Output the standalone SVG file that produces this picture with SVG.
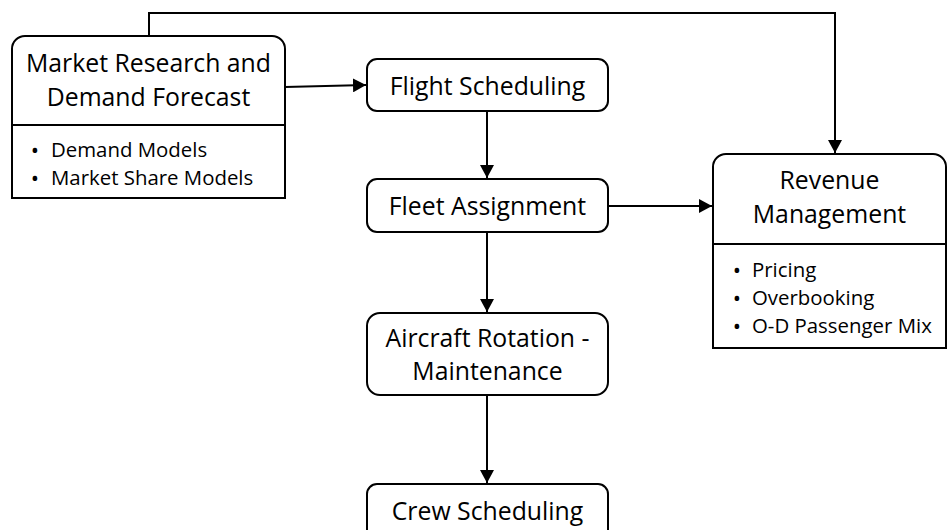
<svg xmlns="http://www.w3.org/2000/svg" width="949" height="530" viewBox="0 0 949 530">
<style>
  .box { fill: #fff; stroke: #000; stroke-width: 2; }
  .t { font-family: "Open Sans", "Liberation Sans", sans-serif; font-size: 24.8px; fill: #000; text-anchor: middle; }
  .b { font-family: "Open Sans", "Liberation Sans", sans-serif; font-size: 20.4px; fill: #000; }
  .d { font-family: "Open Sans", "Liberation Sans", sans-serif; font-size: 22px; fill: #000; text-anchor: middle; }
  .c { fill: none; stroke: #000; stroke-width: 2; }
</style>
<defs>
  <marker id="arr" markerWidth="14" markerHeight="14" refX="13" refY="7" orient="auto" markerUnits="userSpaceOnUse">
    <path d="M0,0 L13,7 L0,14 Z" fill="#000"/>
  </marker>
</defs>
<rect width="949" height="530" fill="#fff"/>
<g id="connectors">
  <path class="c" d="M149,36 V13 H835 V153" marker-end="url(#arr)"/>
  <path class="c" d="M285,87 L366,85" marker-end="url(#arr)"/>
  <path class="c" d="M487,111 V178" marker-end="url(#arr)"/>
  <path class="c" d="M608,206 H712" marker-end="url(#arr)"/>
  <path class="c" d="M487,232 V312" marker-end="url(#arr)"/>
  <path class="c" d="M487,395 V483" marker-end="url(#arr)"/>
</g>
<g id="market">
  <path class="box" d="M12,198 V49 A13,13 0 0 1 25,36 H272 A13,13 0 0 1 285,49 V198 Z"/>
  <line class="c" x1="12" y1="125" x2="285" y2="125"/>
  <text class="t" x="148.5" y="72">Market Research and</text>
  <text class="t" x="148.5" y="106">Demand Forecast</text>
  <text class="d" x="35" y="158">•</text>
  <text class="b" x="51" y="157">Demand Models</text>
  <text class="d" x="35" y="186">•</text>
  <text class="b" x="51" y="185">Market Share Models</text>
</g>
<g id="flight">
  <rect class="box" x="367" y="59" width="241" height="52" rx="10"/>
  <text class="t" x="487.5" y="95">Flight Scheduling</text>
</g>
<g id="fleet">
  <rect class="box" x="367" y="179" width="241" height="53" rx="10"/>
  <text class="t" x="487.5" y="215">Fleet Assignment</text>
</g>
<g id="aircraft">
  <rect class="box" x="367" y="313" width="241" height="82" rx="13"/>
  <text class="t" x="487.5" y="347">Aircraft Rotation -</text>
  <text class="t" x="487.5" y="380">Maintenance</text>
</g>
<g id="crew">
  <rect class="box" x="367" y="484" width="241" height="60" rx="10"/>
  <text class="t" x="487.5" y="520">Crew Scheduling</text>
</g>
<g id="revenue">
  <path class="box" d="M713,348 V167 A13,13 0 0 1 726,154 H933 A13,13 0 0 1 946,167 V348 Z"/>
  <line class="c" x1="713" y1="244" x2="946" y2="244"/>
  <text class="t" x="829.5" y="189">Revenue</text>
  <text class="t" x="829.5" y="223">Management</text>
  <text class="d" x="737" y="278">•</text>
  <text class="b" x="752" y="277">Pricing</text>
  <text class="d" x="737" y="306">•</text>
  <text class="b" x="752" y="305">Overbooking</text>
  <text class="d" x="737" y="334">•</text>
  <text class="b" x="752" y="333">O-D Passenger Mix</text>
</g>
</svg>
